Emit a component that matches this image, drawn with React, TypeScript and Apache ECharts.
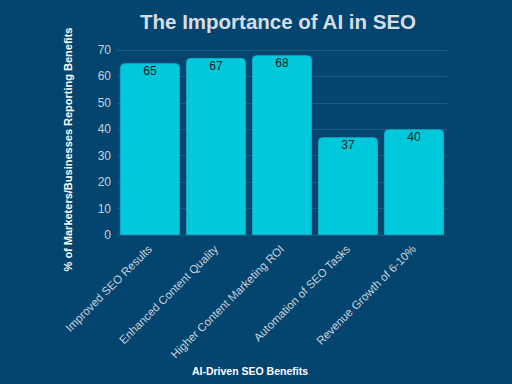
import React, { useEffect, useRef } from "react";
import * as echarts from "echarts";

const categories = [
  "Improved SEO Results",
  "Enhanced Content Quality",
  "Higher Content Marketing ROI",
  "Automation of SEO Tasks",
  "Revenue Growth of 6-10%",
];
const values = [65, 67, 68, 37, 40];
const titleText = "The Importance of AI in SEO";
const xAxisTitle = "AI-Driven SEO Benefits";
const yAxisTitle = "% of Marketers/Businesses Reporting Benefits";

export default function App() {
  const ref = useRef<HTMLDivElement>(null);
  useEffect(() => {
    if (!ref.current) return;
    const chart = echarts.init(ref.current, undefined, { renderer: "svg" });
    chart.setOption({
      animation: false,
      backgroundColor: "#03456e",
      textStyle: { fontFamily: "Liberation Sans, Arial, sans-serif" },
      title: {
        text: titleText,
        left: 273,
        top: 6,
        textAlign: "center",
        textStyle: { color: "#d5dde5", fontSize: 20.5, fontWeight: "bold", fontFamily: "Liberation Sans, Arial, sans-serif" },
      },
      grid: { left: 117, right: 65, top: 50, bottom: 149, containLabel: false },
      xAxis: {
        type: "category",
        data: categories,
        axisLine: { show: false },
        axisTick: { show: false },
        axisLabel: { rotate: 45, color: "#c9d1da", fontSize: 11.5, margin: 12, interval: 0 },
      },
      yAxis: {
        type: "value",
        min: 0,
        max: 70,
        interval: 10,
        axisLine: { show: false },
        axisTick: { show: false },
        axisLabel: { color: "#c9d1da", fontSize: 12, margin: 6 },
        splitLine: { lineStyle: { color: "#1f5a82", width: 1 } },
      },
      series: [
        {
          type: "bar",
          data: values,
          barCategoryGap: "9%",
          itemStyle: { color: "#00c9db", borderRadius: [4, 4, 0, 0], borderColor: "#0bb0c8", borderWidth: 1 },
          label: {
            show: true,
            position: "insideTop",
            distance: 2,
            color: "#0a1a22",
            fontSize: 12,
          },
        },
      ],
      graphic: [
        {
          type: "text",
          x: 250,
          y: 370.5,
          style: {
            text: xAxisTitle,
            fill: "#ffffff",
            font: "bold 10.5px Liberation Sans, Arial, sans-serif",
            textAlign: "center",
            textVerticalAlign: "middle",
          },
        },
        {
          type: "text",
          x: 67.5,
          y: 149.5,
          rotation: Math.PI / 2,
          style: {
            text: yAxisTitle,
            fill: "#ffffff",
            font: "bold 11px Liberation Sans, Arial, sans-serif",
            textAlign: "center",
            textVerticalAlign: "middle",
          },
        },
      ],
    });
    return () => chart.dispose();
  }, []);
  return <div ref={ref} style={{ position: "fixed", left: 0, top: 0, width: 512, height: 384 }} />;
}
